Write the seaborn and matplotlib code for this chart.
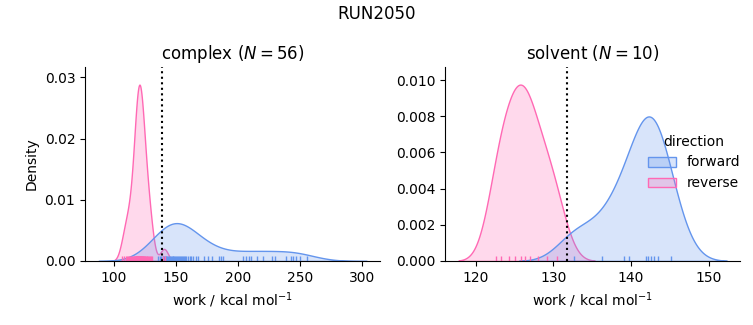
import numpy as np
import pandas as pd
import matplotlib
matplotlib.use("Agg")
import matplotlib.pyplot as plt
import seaborn as sns

complex_forward = [135.5, 137.2, 138.4, 139.3, 140.0, 140.6, 141.2, 141.8, 142.4, 143.1,
                   143.8, 144.5, 145.2, 145.9, 146.6, 147.3, 148.0, 148.7, 149.4, 150.1,
                   150.8, 151.5, 152.2, 153.0, 153.8, 154.6, 155.5, 156.4, 157.4, 158.5,
                   159.7, 161.0, 162.5, 164.2, 166.0, 168.0,
                   172.8, 176.1, 179.4, 184.9, 186.5, 188.2, 204.0, 206.2, 209.0, 210.9,
                   215.0, 220.0, 227.6, 229.8, 238.5, 242.4, 244.6, 246.8, 250.0, 256.0]
complex_reverse = [106.5, 108.3, 109.5, 110.6, 111.3, 112.0,
                   113.0, 114.1, 114.9, 115.5, 116.1, 116.5, 116.9, 117.3, 117.6, 117.9,
                   118.2, 118.6, 118.8, 118.9, 119.0, 119.2, 119.4, 119.6, 120.0, 120.2,
                   120.4, 120.6, 120.8, 121.0, 121.1, 121.2, 121.4, 121.8, 122.0, 122.2,
                   122.5, 122.8, 122.9, 123.2, 123.5, 123.8, 124.2, 124.5, 125.0, 125.3,
                   125.8, 126.4, 127.0, 127.7, 128.4, 129.2, 129.8,
                   130.5, 139.6, 141.4]
solvent_forward = [132.7, 136.3, 139.1, 139.7, 141.9, 142.2, 142.6, 143.0, 143.5, 145.2]
solvent_reverse = [122.6, 123.2, 124.3, 125.1, 125.8, 126.3, 127.0, 128.0, 129.2, 130.5]

phases = ["complex", "solvent"]
n_per_phase = {"complex": 56, "solvent": 10}
estimates = {"complex": 138.9, "solvent": 131.8}
palette = {"forward": "cornflowerblue", "reverse": "hotpink"}

rows = []
for ph, fw, rv in [("complex", complex_forward, complex_reverse),
                   ("solvent", solvent_forward, solvent_reverse)]:
    rows += [(ph, "forward", v) for v in fw]
    rows += [(ph, "reverse", v) for v in rv]
df = pd.DataFrame(rows, columns=["phase", "direction", "work"])

g = sns.displot(data=df, x="work", hue="direction", col="phase", col_order=phases,
                kind="kde", fill=True, rug=True, palette=palette,
                facet_kws=dict(sharex=False, sharey=False), height=3.25, aspect=1.0)

for ax, ph in zip(g.axes.flat, phases):
    ax.set_title(f"{ph} ($N = {n_per_phase[ph]}$)")
    ax.axvline(estimates[ph], color="black", linestyle=":", linewidth=1.5)
g.set_axis_labels("work / kcal mol$^{-1}$", "Density")
g.axes.flat[1].set_ylabel("")

fig = g.figure
fig.set_size_inches(7.53, 3.25)
fig.subplots_adjust(left=0.113, right=0.983, top=0.794, bottom=0.197, wspace=0.22)
fig.suptitle("RUN2050", y=0.985)
sns.move_legend(g, "center right", bbox_to_anchor=(1.0, 0.5))
fig.savefig("out.png", dpi=100)
